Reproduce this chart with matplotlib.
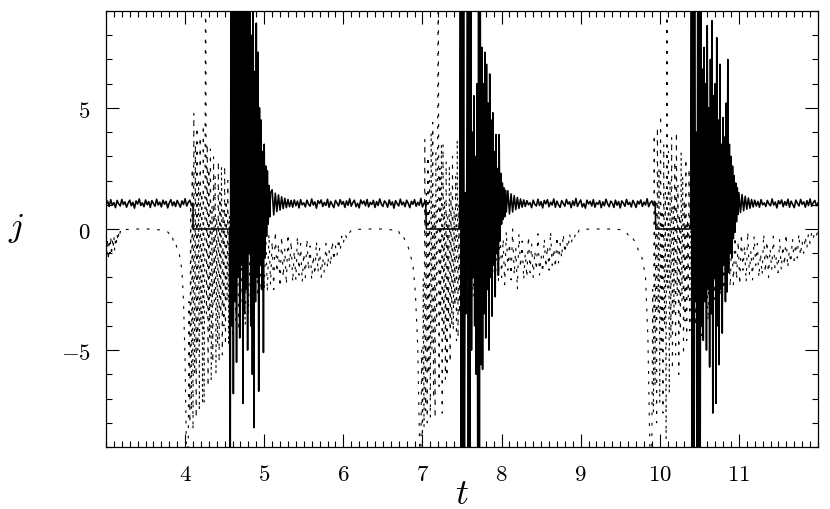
import numpy as np
import matplotlib
matplotlib.use("Agg")
import matplotlib.pyplot as plt
from matplotlib.ticker import FixedLocator, MultipleLocator, FuncFormatter

plt.rcParams['mathtext.fontset'] = 'cm'
plt.rcParams['lines.scale_dashes'] = False

# ---- solid curve j(t): pieces of (t_start, t_end, values), evenly sampled ----
calm_a = [1.02, 1.15, 0.93, 1.21, 0.98, 1.09, 0.88, 1.18, 1.04, 0.95, 1.22, 1.01, 1.12, 0.90,
          1.07, 1.19, 0.96, 1.10, 0.86, 1.16, 1.03, 1.24, 0.97, 1.08, 0.92, 1.20, 1.00, 1.13,
          0.89, 1.17, 1.05, 0.94, 1.23, 0.99, 1.11, 0.91, 1.19, 1.02, 1.14, 0.87, 1.08, 1.21,
          0.96, 1.12, 0.93, 1.18, 1.04, 0.90, 1.16, 1.01, 1.25, 0.95, 1.10, 1.19, 0.98, 1.06]
flat_a = [0.0, 0.0]
burst_a = [-12, 12, -4, 12, -6.8, 11, -3, 12, -5.5, 10, -2, 12, -4.5, 11, -1.5, 12, -7.2, 9,
           -3.5, 12, -2.5, 10.5, -5, 12, -1, 9.5, -4, 8, -6, 10, -8.2, 6.5, -3, 8.5, -2, 7.3,
           -6.7, 5, -1.5, 4.5, -2.5, 3.2, -5.1, 3.5, -1.2, 2.6, -0.3, 2.4, 0.2, 1.8, 0.5, 1.5]
calm_b = [1.62, 0.58, 1.48, 0.72, 1.41, 0.78, 1.33, 0.84, 1.27, 0.88, 1.22, 0.92, 1.18, 0.90,
          1.20, 0.96, 1.15, 0.87, 1.21, 1.00, 1.08, 0.91, 1.19, 1.03, 0.94, 1.24, 0.99, 1.12,
          0.86, 1.17, 1.05, 1.20, 0.93, 1.10, 0.97, 1.23, 0.90, 1.14, 1.01, 0.88, 1.18, 1.07,
          0.95, 1.21, 1.02, 1.13, 0.89, 1.16, 0.98, 1.25, 0.94, 1.09, 1.19, 0.92, 1.06, 0.87,
          1.20, 1.04, 1.15, 0.96, 1.22, 0.91, 1.10, 1.01, 1.18, 0.89, 1.13, 0.97, 1.24, 1.03,
          0.93, 1.16, 1.08, 0.90, 1.20, 0.99, 1.12, 0.86, 1.17, 1.05, 0.95, 1.23, 1.00, 1.11,
          0.92, 1.19, 1.06, 0.88, 1.14, 1.02, 1.21, 0.94, 1.10, 0.98, 1.26, 0.91, 1.07, 1.15]
flat_b = [0.0, 0.0]
burst_b = [12, -12, 12, -12, 12, -12, 1.5, -3.5, 2, 12, -12, 12, -12, 12, -5, 4, -2, 5.5, -4, 3,
           -6, 6, -12, 12, -12, 12, -5.6, 7.5, -5.8, 6, -3.5, 7.3, -4.5, 6.8, -2.5, 5.2, -5, 6.4,
           -2, 4.5, -3.6, 4.8, -1.5, 3.2, -2.8, 3.9, -1, 2.5, -1.9, 3.9, -0.5, 2.3, 0.2, 1.9,
           0.4, 1.7, 0.5, 1.6, 0.7]
calm_c = [1.58, 0.62, 1.45, 0.7, 1.38, 0.8, 1.3, 0.85, 1.24, 0.9, 1.2, 0.93, 1.17, 1.0, 1.09,
          0.88, 1.19, 1.02, 0.95, 1.23, 0.97, 1.13, 0.87, 1.18, 1.04, 1.21, 0.92, 1.11, 0.99,
          1.24, 0.9, 1.15, 1.0, 0.89, 1.17, 1.06, 0.94, 1.22, 1.03, 1.12, 0.88, 1.16, 0.97,
          1.26, 0.93, 1.08, 1.2, 0.91, 1.05, 0.86, 1.19, 1.03, 1.14, 0.95, 1.21, 0.9, 1.09,
          1.02, 1.17, 0.88, 1.12, 0.96, 1.23, 1.04, 0.92, 1.15, 1.07, 0.89, 1.19, 0.98, 1.13,
          0.87, 1.16, 1.06, 0.94, 1.22, 1.01, 1.1, 0.91, 1.18, 1.05, 0.89, 1.15, 1.03, 1.2,
          0.93, 1.11, 0.99, 1.25, 0.92, 1.08, 1.16, 0.97, 1.12]
flat_c = [0.0, 0.0]
burst_c = [12, -12, 12, -12, 12, -3, 4, -12, 12, -12, 12, -12, 9, -4, 6.6, -4.6, 7.5, -3, 6, -5,
           8.4, -2.5, 5, -5.7, 7, -3.5, 8.6, -7.6, 5.5, -2, 6, -7.2, 7.9, -4, 4.5, -5.6, 6.8,
           -2.5, 3.5, -4.3, 4.6, -1.5, 3.8, -3, 5.2, -2.6, 7.0, -1.8, 3.5, -1, 3.0, -1.2, 2.6,
           -0.4, 2.2, -0.1, 1.9, 0.3, 1.7, 0.6]
calm_d = [1.5, 0.68, 1.42, 0.75, 1.35, 0.82, 1.28, 0.86, 1.22, 0.91, 1.19, 0.95, 1.14, 0.9,
          1.21, 1.0, 1.08, 0.93, 1.18, 1.03, 0.96, 1.24, 0.99, 1.11, 0.87, 1.17, 1.04, 1.2,
          0.92, 1.13, 0.98, 1.23, 0.9, 1.15, 1.01, 0.88, 1.19, 1.06, 0.95, 1.22, 1.02, 1.12,
          0.9, 1.17, 0.97, 1.24, 0.94, 1.09, 1.18, 0.96, 1.07]

solid_pieces = [(3.00, 4.10, calm_a), (4.10, 4.56, flat_a), (4.57, 5.08, burst_a),
                (5.10, 7.04, calm_b), (7.05, 7.47, flat_b), (7.48, 8.06, burst_b),
                (8.08, 9.94, calm_c), (9.95, 10.39, flat_c), (10.40, 10.99, burst_c),
                (11.00, 12.00, calm_d)]

# ---- dashed curve ----
d_tail0 = [-0.5, -1.2, -0.4, -1.3, -0.6, -1.0, -0.3, -1.1, -0.5, -0.8, -0.3, -0.9, -0.4, -0.6,
           -0.2, -0.5, -0.2, -0.35, -0.1, -0.15, -0.05]
d_smooth0 = [-0.04, -0.02, -0.01, 0, 0, 0, 0, 0, 0, -0.01, -0.02, -0.03, -0.05, -0.08, -0.12]
d_dip0 = [-0.2, -0.4, -0.35, -0.6, -0.55, -0.85, -0.9, -1.3, -1.7, -3.0, -5.5, -10]
d_chaos0 = [-9.5, -8.6, -3, -8, 1, -7.5, 2.5, -8.3, 4.8, -6, 3.5, -7.8, 4.2, -5, 2, -7.5, 3.8,
            -4, 1.5, -7.2, 4.3, -7.2, 0.5, 12, -3.5, 3.5, -6.5, 2.5, -4.5, 3.3, -6.3, 1, -5.5,
            3.0, -3, 2.2, -6, 0.5, -4.8, 2.8, -5.5, 1.5, -3.5, 2.6, -5.2, 0.8, -4, 2.6, -4.8,
            1.2, -3, 2.0, -4.8, 0.6, -3.8, 1.0]
d_mid0 = [-4.5, 0.3, -3.8, -0.5, -4.2, 0.2, -3, -1, -4, 0, -3.5, -0.8, -3.2, -0.2, -3.0, -1.2,
          -2.8, -0.3, -2.6, -0.6, -2.5]
d_post0 = [-0.4, -2.6, -0.2, -2.3, -0.5, -2.5, -0.1, -1.8, -0.6, -2.4, -0.3, -2.0, -0.8, -2.3,
           -0.2, -1.6, -0.5, -2.2, -0.9, -2.1, -0.3, -1.9, -0.6, -2.2, -1.0, -2.0, -0.4, -1.7,
           -0.7, -2.1, -1.1, -1.9, -0.5, -1.8, -0.8, -2.0, -1.2, -1.8, -0.6, -1.6, -0.9, -1.5,
           -0.5, -1.3, -0.7, -1.1, -0.4, -0.9, -0.3, -0.6, -0.2, -0.35, -0.1, -0.15, -0.05,
           -0.06, -0.02, -0.02]
d_smooth1 = [-0.02, -0.01, 0, 0, 0, 0, 0, 0, 0, -0.01, -0.02, -0.04]
d_dip1 = [-0.05, -0.15, -0.1, -0.35, -0.3, -0.6, -0.75, -1.1, -1.5, -2.6, -4.8, -10]
d_chaos1 = [-9.5, -5, -8.8, -2, -8.2, 3.7, -7.5, 1.5, -8, 3, -6, 2, -7.8, 4, -5, 4.4, -7, 1,
            -7.8, 3.2, -4, 0.8, 12, -6.5, 2.5, -3.5, 3.5, -7.6, 3.5, -4.5, 1.2, -6.2, 2.8, -6.1,
            0.5, -3.8, 2.6, -5.5, 1.5, -4, 3, -4.2, 0.8, -3.2, 2.2, -4.6, 3.7, -4.5, 1, -3.5, 2,
            -4, 0.5]
d_mid1 = [-4.2, 0.2, -3.5, -0.4, -4.0, 0.4, -2.8, -1.2, -3.6, -0.2, -3.2, -0.9, -3.0, -0.1,
          -2.9, -1.3, -2.6, -0.4, -2.7, -0.7, -2.4]
d_post1 = [-0.5, -2.2, 0.1, -2.0, -0.4, -2.3, -0.1, -1.7, -0.6, -2.1, 0.0, -1.9, -0.8, -2.5,
           -0.2, -1.6, -0.5, -2.1, -1.0, -2.0, -0.3, -1.8, -0.6, -2.0, -0.9, -1.7, -0.2, -1.9,
           -1.1, -1.8, -0.4, -1.6, -0.7, -1.7, -0.1, -1.5, -0.8, -1.6, -0.3, -1.4, -0.6, -1.2,
           -0.2, -1.0, -0.5, -0.8, -0.2, -0.6, -0.3, -0.4, -0.1, -0.2, -0.05, -0.08, -0.03,
           -0.02, -0.01]
d_smooth2 = [-0.01, 0, 0, 0, 0, 0, 0, 0, 0, -0.01, -0.02, -0.04, -0.08]
d_dip2 = [-0.15, -0.3, -0.25, -0.45, -0.55, -0.9, -1.0, -1.4, -2.0, -4.5, -10]
d_chaos2 = [-9.5, -8.8, -2.5, -7.6, 3.9, -6.5, 1.2, -8, 4.2, -3.5, 2.5, -7.2, 4.7, -5, 0.8,
            -7.6, 3.5, -4, 1.5, -8.7, 12, -2.5, 3.2, -6.8, 2, -4.5, 3.8, -5.8, 1, -3.5, 2.8,
            -5.2, 4, -2.8, 1.8, -6, 0.6, -4.2, 3.2, -3, 2.2, -5.2, 1.2, -3.8, 2.9, -4.6, 0.4,
            -2.8, 2.5, -4.2, 1.5, -3.3, 2, -4, 0.5]
d_mid2 = [-4, 0.3, -3.6, -0.5, -4.4, 0.1, -3, -1.1, -3.8, 0.2, -3.3, -0.7, -2.9, -0.2, -3.1,
          -1.0, -2.7, -0.3, -2.5, -0.8, -2.6, -0.2, -2.4]
d_post2 = [-0.3, -2.3, -0.1, -2.1, -0.5, -2.3, -0.2, -1.7, -0.7, -2.2, -0.1, -1.9, -0.9, -2.1,
           -0.3, -1.5, -0.6, -2.0, -1.0, -1.9, -0.2, -1.8, -0.5, -2.0, -0.8, -1.7, -0.3, -1.6,
           -1.1, -1.8, -0.4, -1.7, -0.7, -1.5, -0.2, -1.6, -0.9, -1.4, -0.4, -1.3, -0.6, -1.2,
           -0.2, -1.1, -0.5, -1.0, -0.3, -0.8, -0.2, -0.6, -0.15, -0.4, -0.1, -0.25, -0.1]

dashed_pieces = [(3.00, 3.20, d_tail0), (3.22, 3.78, d_smooth0), (3.80, 4.02, d_dip0),
                 (4.03, 4.58, d_chaos0), (4.60, 5.00, d_mid0), (5.02, 6.16, d_post0),
                 (6.18, 6.62, d_smooth1), (6.64, 6.97, d_dip1), (6.98, 7.50, d_chaos1),
                 (7.52, 7.92, d_mid1), (7.94, 9.06, d_post1), (9.08, 9.56, d_smooth2),
                 (9.58, 9.88, d_dip2), (9.89, 10.43, d_chaos2), (10.45, 10.89, d_mid2),
                 (10.91, 12.00, d_post2)]

x_ticks = [4, 5, 6, 7, 8, 9, 10, 11]
y_ticks = [-5, 0, 5]


def join(pieces):
    tt, vv = [], []
    for a, b, vals in pieces:
        tt.append(np.linspace(a, b, len(vals)))
        vv.append(np.asarray(vals, dtype=float))
    return np.concatenate(tt), np.concatenate(vv)


t_s, j_s = join(solid_pieces)
t_d, j_d = join(dashed_pieces)

fig = plt.figure(figsize=(8.3, 5.1), dpi=100)
ax = fig.add_axes([106/830, 1 - 448/510, 712/830, 436/510])

ax.plot(t_d, j_d, color='black', lw=0.8, linestyle=(0, (2.0, 5.5)))
ax.plot(t_s, j_s, color='black', lw=1.15)

ax.set_xlim(3, 12)
ax.set_ylim(-9, 9)
ax.xaxis.set_major_locator(FixedLocator(x_ticks))
ax.xaxis.set_minor_locator(MultipleLocator(0.1))
ax.yaxis.set_major_locator(FixedLocator(y_ticks))
ax.yaxis.set_minor_locator(MultipleLocator(1))
fmt = FuncFormatter(lambda v, p: r'$%d$' % v)
ax.xaxis.set_major_formatter(fmt)
ax.yaxis.set_major_formatter(fmt)
ax.tick_params(which='both', direction='in', top=True, right=True, width=0.8, labelsize=16.5)
ax.tick_params(which='major', length=9.5)
ax.tick_params(which='minor', length=4.5)
ax.tick_params(axis='x', pad=11)
ax.tick_params(axis='y', pad=11)
for s in ax.spines.values():
    s.set_linewidth(0.9)

fig.text(16/830, 1 - 236/510, r'$j$', fontsize=25, ha='center', va='baseline')
fig.text(462/830, 1 - 494/510, r'$t$', fontsize=26, ha='center', va='center')

fig.savefig('out.png', dpi=100)
